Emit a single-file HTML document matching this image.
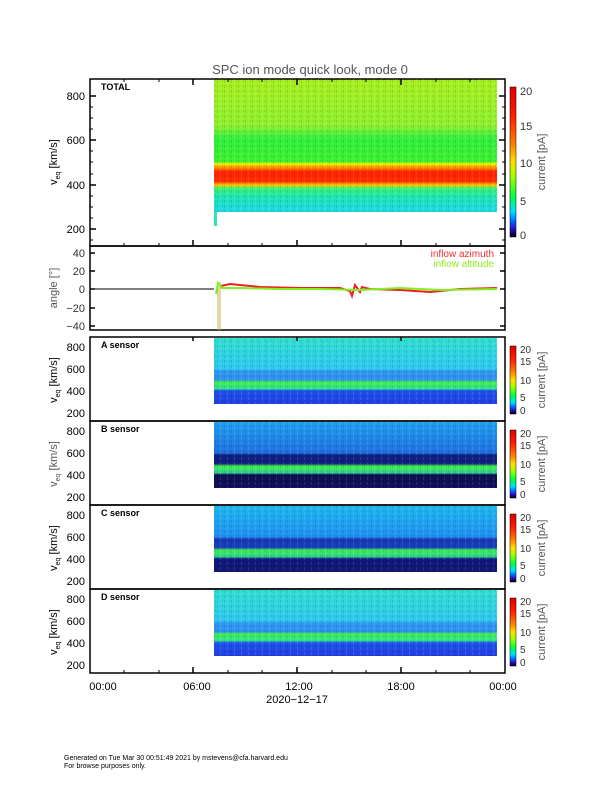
<!DOCTYPE html>
<html><head><meta charset="utf-8"><style>
html,body{margin:0;padding:0;background:#fff;}
svg{display:block;font-family:"Liberation Sans",sans-serif;}
</style></head><body>
<svg width="612" height="792" viewBox="0 0 612 792" xmlns="http://www.w3.org/2000/svg">
<defs>
<linearGradient id="gt" x1="0" y1="0" x2="0" y2="1">
<stop offset="0" stop-color="#a8f020"/><stop offset="0.35" stop-color="#90f030"/>
<stop offset="0.45" stop-color="#30f040"/><stop offset="0.62" stop-color="#40f030"/>
<stop offset="0.64" stop-color="#f0f000"/><stop offset="0.67" stop-color="#ff8000"/>
<stop offset="0.7" stop-color="#ff2000"/><stop offset="0.77" stop-color="#ff3000"/>
<stop offset="0.8" stop-color="#f8d000"/><stop offset="0.82" stop-color="#40f070"/>
<stop offset="0.88" stop-color="#20e8b0"/><stop offset="1" stop-color="#20d8e8"/>
</linearGradient>
<linearGradient id="ga" x1="0" y1="0" x2="0" y2="1">
<stop offset="0" stop-color="#30e0d0"/><stop offset="0.47" stop-color="#30c8f0"/>
<stop offset="0.5" stop-color="#3098f0"/><stop offset="0.63" stop-color="#3090f0"/>
<stop offset="0.67" stop-color="#40f050"/><stop offset="0.77" stop-color="#30e090"/>
<stop offset="0.8" stop-color="#2050f0"/><stop offset="1" stop-color="#2040e0"/>
</linearGradient>
<linearGradient id="gb" x1="0" y1="0" x2="0" y2="1">
<stop offset="0" stop-color="#20a0f0"/><stop offset="0.47" stop-color="#2070e0"/>
<stop offset="0.5" stop-color="#102080"/><stop offset="0.63" stop-color="#102080"/>
<stop offset="0.67" stop-color="#40f050"/><stop offset="0.77" stop-color="#30d090"/>
<stop offset="0.8" stop-color="#101050"/><stop offset="1" stop-color="#101060"/>
</linearGradient>
<linearGradient id="gc" x1="0" y1="0" x2="0" y2="1">
<stop offset="0" stop-color="#20b8f0"/><stop offset="0.47" stop-color="#2090f0"/>
<stop offset="0.5" stop-color="#1838b0"/><stop offset="0.63" stop-color="#1840c0"/>
<stop offset="0.67" stop-color="#40f050"/><stop offset="0.77" stop-color="#30d090"/>
<stop offset="0.8" stop-color="#101880"/><stop offset="1" stop-color="#101870"/>
</linearGradient>
<linearGradient id="cb" x1="0" y1="1" x2="0" y2="0">
<stop offset="0" stop-color="#000"/><stop offset="0.04" stop-color="#3000a0"/>
<stop offset="0.1" stop-color="#0060ff"/><stop offset="0.17" stop-color="#00e0ff"/>
<stop offset="0.27" stop-color="#00ff40"/><stop offset="0.4" stop-color="#a0ff00"/>
<stop offset="0.5" stop-color="#ffe000"/><stop offset="0.62" stop-color="#ff8000"/>
<stop offset="0.8" stop-color="#ff2000"/><stop offset="1" stop-color="#e00000"/>
</linearGradient>
<pattern id="nz" width="7" height="5" patternUnits="userSpaceOnUse">
<rect x="0" y="0" width="1" height="3" fill="#000" opacity="0.12"/>
<rect x="3" y="2" width="1" height="3" fill="#fff" opacity="0.12"/>
<rect x="5" y="0" width="1" height="2" fill="#000" opacity="0.1"/>
</pattern>
</defs>
<text x="310" y="74" font-size="13" fill="#555" text-anchor="middle">SPC ion mode quick look, mode 0</text>

<!-- TOTAL panel -->
<rect x="214" y="79" width="283" height="133" fill="url(#gt)"/>
<rect x="214" y="212" width="3" height="14" fill="#30e0c0"/>
<rect x="90" y="79" width="415" height="167" fill="none" stroke="#000" stroke-width="1.5"/>
<text x="101" y="90" font-size="9" font-weight="bold">TOTAL</text>
<g font-size="11" text-anchor="end">
<text x="85" y="100">800</text><text x="85" y="144">600</text><text x="85" y="189">400</text><text x="85" y="233">200</text>
</g>
<text transform="translate(57,162) rotate(-90)" font-size="11" text-anchor="middle">v<tspan font-size="7" dy="3">eq</tspan><tspan dy="-3"> [km/s]</tspan></text>
<rect x="510" y="87" width="6" height="150" fill="url(#cb)" stroke="#000" stroke-width="0.5"/>
<g font-size="11" fill="#333"><text x="520" y="95">20</text><text x="520" y="130">15</text><text x="520" y="167">10</text><text x="520" y="205">5</text><text x="520" y="239">0</text></g>
<text transform="translate(545,162) rotate(-90)" font-size="11" fill="#555" text-anchor="middle">current [pA]</text>

<!-- angle panel -->
<rect x="90" y="246" width="415" height="84" fill="none" stroke="#000" stroke-width="1.5"/>
<line x1="90" y1="289" x2="214" y2="289" stroke="#000"/>
<line x1="218" y1="282" x2="218" y2="330" stroke="#c8b040" stroke-width="1"/>
<line x1="220" y1="282" x2="220" y2="330" stroke="#c8b040" stroke-width="1"/>
<polyline points="221,286 230,284 260,287 300,288 340,288 350,291 352,296 355,285 360,292 362,287 370,289 400,290 430,292 460,289 497,288" fill="none" stroke="#f02020" stroke-width="2"/>
<polyline points="216,294 218,283 222,288 240,288 280,289 320,289 360,290 400,288 440,290 497,289" fill="none" stroke="#80f020" stroke-width="2"/>
<g font-size="11" fill="#333" text-anchor="end">
<text x="85" y="257">40</text><text x="85" y="275">20</text><text x="85" y="293">0</text><text x="85" y="312">−20</text><text x="85" y="330">−40</text></g>
<text transform="translate(57,288) rotate(-90)" font-size="11" fill="#555" text-anchor="middle">angle [°]</text>
<text x="494" y="257" font-size="10" fill="#f03030" text-anchor="end">inflow azimuth</text>
<text x="494" y="267" font-size="10" fill="#90f020" text-anchor="end">inflow altitude</text>

<!-- sensor panels -->
<rect x="214" y="338" width="283" height="66" fill="url(#ga)"/>
<rect x="214" y="422" width="283" height="66" fill="url(#gb)"/>
<rect x="214" y="506" width="283" height="66" fill="url(#gc)"/>
<rect x="214" y="590" width="283" height="66" fill="url(#ga)"/>
<g fill="url(#nz)">
<rect x="214" y="338" width="283" height="66"/><rect x="214" y="422" width="283" height="66"/>
<rect x="214" y="506" width="283" height="66"/><rect x="214" y="590" width="283" height="66"/>
<rect x="214" y="79" width="283" height="133"/>
</g>
<g fill="none" stroke="#000" stroke-width="1.5">
<rect x="90" y="337" width="415" height="84"/><rect x="90" y="421" width="415" height="84"/>
<rect x="90" y="505" width="415" height="84"/><rect x="90" y="589" width="415" height="84"/>
</g>
<g font-size="9" font-weight="bold"><text x="101" y="348">A sensor</text><text x="101" y="432">B sensor</text><text x="101" y="516">C sensor</text><text x="101" y="600">D sensor</text></g>
<g font-size="11" text-anchor="end">
<text x="85" y="351">800</text><text x="85" y="373">600</text><text x="85" y="395">400</text><text x="85" y="417">200</text>
<text x="85" y="435">800</text><text x="85" y="457">600</text><text x="85" y="479">400</text><text x="85" y="501">200</text>
<text x="85" y="519">800</text><text x="85" y="541">600</text><text x="85" y="563">400</text><text x="85" y="585">200</text>
<text x="85" y="603">800</text><text x="85" y="625">600</text><text x="85" y="647">400</text><text x="85" y="669">200</text>
</g>
<g font-size="11" text-anchor="middle">
<text transform="translate(57,380) rotate(-90)">v<tspan font-size="7" dy="3">eq</tspan><tspan dy="-3"> [km/s]</tspan></text>
<text transform="translate(57,464) rotate(-90)" fill="#555">v<tspan font-size="7" dy="3">eq</tspan><tspan dy="-3"> [km/s]</tspan></text>
<text transform="translate(57,548) rotate(-90)">v<tspan font-size="7" dy="3">eq</tspan><tspan dy="-3"> [km/s]</tspan></text>
<text transform="translate(57,632) rotate(-90)">v<tspan font-size="7" dy="3">eq</tspan><tspan dy="-3"> [km/s]</tspan></text>
</g>
<g stroke="#000" stroke-width="0.5">
<rect x="510" y="346" width="6" height="68" fill="url(#cb)"/><rect x="510" y="430" width="6" height="68" fill="url(#cb)"/>
<rect x="510" y="514" width="6" height="68" fill="url(#cb)"/><rect x="510" y="598" width="6" height="68" fill="url(#cb)"/>
</g>
<g font-size="10" fill="#333">
<text x="520" y="353">20</text><text x="520" y="365">15</text><text x="520" y="384">10</text><text x="520" y="401">5</text><text x="520" y="414">0</text>
<text x="520" y="437">20</text><text x="520" y="449">15</text><text x="520" y="468">10</text><text x="520" y="485">5</text><text x="520" y="498">0</text>
<text x="520" y="521">20</text><text x="520" y="533">15</text><text x="520" y="552">10</text><text x="520" y="569">5</text><text x="520" y="582">0</text>
<text x="520" y="605">20</text><text x="520" y="617">15</text><text x="520" y="636">10</text><text x="520" y="653">5</text><text x="520" y="666">0</text>
</g>
<g font-size="11" fill="#555" text-anchor="middle">
<text transform="translate(545,380) rotate(-90)">current [pA]</text><text transform="translate(545,464) rotate(-90)">current [pA]</text>
<text transform="translate(545,548) rotate(-90)">current [pA]</text><text transform="translate(545,632) rotate(-90)">current [pA]</text>
</g>

<!-- ticks -->
<g stroke="#000" stroke-width="1.5">
<path d="M193,79v6M297,79v6M401,79v6M193,246v-6M297,246v-6M401,246v-6
M193,337v4M297,337v4M401,337v4M193,673v-6M297,673v-6M401,673v-6
M90,96h6M90,140h6M90,185h6M90,229h6M505,96h-6M505,140h-6M505,185h-6M505,229h-6
M90,253h5M90,271h5M90,289h5M90,308h5M90,326h5M505,253h-5M505,271h-5M505,289h-5M505,308h-5M505,326h-5"/>
</g>
<g stroke="#000" stroke-width="1">
<path d="M124,79v3M159,79v3M228,79v3M262,79v3M332,79v3M366,79v3M436,79v3M470,79v3
M124,246v-3M159,246v-3M228,246v-3M262,246v-3M332,246v-3M366,246v-3M436,246v-3M470,246v-3
M124,673v-3M159,673v-3M228,673v-3M262,673v-3M332,673v-3M366,673v-3M436,673v-3M470,673v-3
M90,107h3M90,118h3M90,129h3M90,151h3M90,162h3M90,174h3M90,196h3M90,207h3M90,218h3M90,240h3
M505,107h-3M505,118h-3M505,129h-3M505,151h-3M505,162h-3M505,174h-3M505,196h-3M505,207h-3M505,218h-3M505,240h-3"/>
</g>

<g font-size="11" text-anchor="middle">
<text x="103" y="690">00:00</text><text x="197" y="690">06:00</text><text x="299" y="690">12:00</text><text x="401" y="690">18:00</text><text x="503" y="690">00:00</text>
<text x="297" y="703">2020−12−17</text>
</g>
<text x="64" y="760" font-size="7">Generated on Tue Mar 30 00:51:49 2021 by mstevens@cfa.harvard.edu</text>
<text x="64" y="768" font-size="7">For browse purposes only.</text>
</svg>
</body></html>
